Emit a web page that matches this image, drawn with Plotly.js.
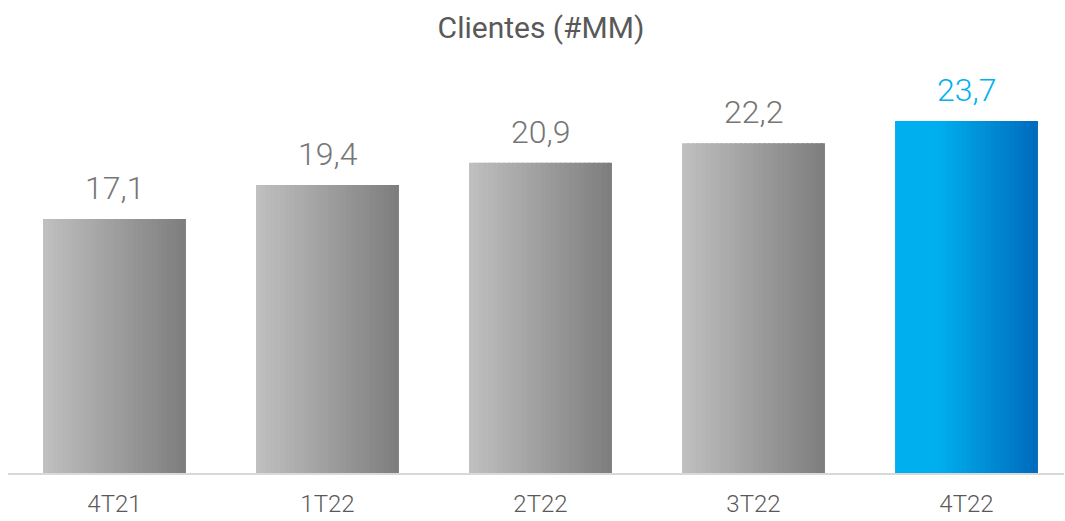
<!DOCTYPE html>
<html>
<head>
<meta charset="utf-8">
<script src="https://cdn.plot.ly/plotly-3.0.1.min.js"></script>
<style>html,body{margin:0;padding:0;background:#fff;}#chart{width:1065px;height:521px;}</style>
</head>
<body>
<div id="chart"></div>
<script>
const categories = ["4T21", "1T22", "2T22", "3T22", "4T22"];
const clientes = [17.1, 19.4, 20.9, 22.2, 23.7];
const valueLabels = ["17,1", "19,4", "20,9", "22,2", "23,7"];
const highlighted = [false, false, false, false, true];
const chartTitle = "Clientes (#MM)";

const FONT = "Roboto, 'Open Sans', sans-serif";
const BAR_W = 0.671;
const N = 30;

function lerp(a, b, t) { return Math.round(a + (b - a) * t); }
function mix(c1, c2, t) {
  return "rgb(" + lerp(c1[0], c2[0], t) + "," + lerp(c1[1], c2[1], t) + "," + lerp(c1[2], c2[2], t) + ")";
}
function grayAt(t) { return mix([192,192,192], [125,125,125], t); }
function blueAt(t) {
  const s = Math.max(0, (t - 0.3) / 0.7);
  return mix([0,175,238], [0,106,189], s);
}

const traces = [];
for (let k = 0; k < N; k++) {
  const t = (k + 0.5) / N;
  const w = (k === N - 1) ? BAR_W / N : BAR_W / N * 1.6;
  traces.push({
    type: "bar",
    x: categories,
    y: clientes,
    width: categories.map(() => w),
    offset: categories.map(() => -BAR_W / 2 + k * BAR_W / N),
    marker: { color: highlighted.map(h => h ? blueAt(t) : grayAt(t)), line: { width: 0 } },
    hoverinfo: "skip",
    showlegend: false
  });
}

const annotations = categories.map((c, i) => ({
  x: c, y: clientes[i], xref: "x", yref: "y",
  text: valueLabels[i], showarrow: false,
  yanchor: "bottom", yshift: 10,
  font: { family: FONT, size: 32, weight: 300, color: highlighted[i] ? "#00b0f0" : "#767676" }
}));

const layout = {
  width: 1065, height: 521,
  margin: { l: 8, r: 1, t: 40, b: 48 },
  paper_bgcolor: "#fff", plot_bgcolor: "#fff",
  barmode: "overlay",
  title: { text: chartTitle, x: 0.508, xref: "container", y: 1 - 27/521, yref: "container", yanchor: "middle", xanchor: "center",
           font: { family: FONT, size: 30, color: "#595959" } },
  xaxis: { type: "category", range: [-0.5, -0.5 + 1056/213], showgrid: false, zeroline: false,
           showline: true, linecolor: "#d9d9d9", linewidth: 2, ticks: "", ticklabelstandoff: 8,
           tickfont: { family: FONT, size: 24, weight: 300, color: "#595959" }, fixedrange: true },
  yaxis: { range: [0, 433/14.85], visible: false, showgrid: false, zeroline: false, fixedrange: true },
  annotations: annotations
};

Plotly.newPlot("chart", traces, layout, { displayModeBar: false, staticPlot: true });
</script>
</body>
</html>
